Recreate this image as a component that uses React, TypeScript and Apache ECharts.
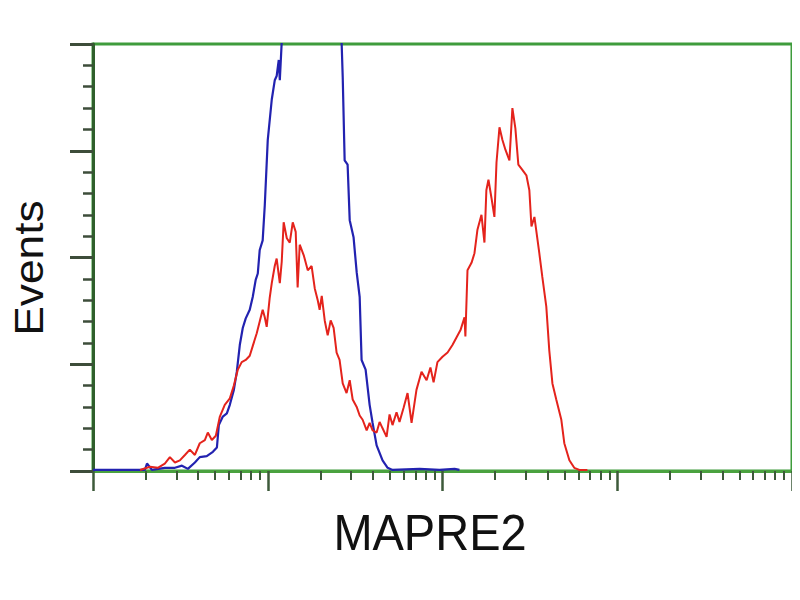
import React, { useEffect, useRef } from "react";
import * as echarts from "echarts";

// x values are log10 of fluorescence intensity (0..4 decades), y values are event counts
const blueX = [0, 0.297, 0.309, 0.337, 0.411, 0.469, 0.509, 0.543, 0.583, 0.611, 0.651, 0.686, 0.709, 0.72, 0.743, 0.766, 0.783, 0.806, 0.823, 0.84, 0.857, 0.874, 0.897, 0.914, 0.931, 0.943, 0.954, 0.971, 0.983, 1.0, 1.023, 1.04, 1.051, 1.063, 1.069, 1.08, 1.097, 1.154, 1.24, 1.326, 1.4, 1.423, 1.429, 1.44, 1.457, 1.469, 1.491, 1.509, 1.526, 1.537, 1.56, 1.583, 1.6, 1.623, 1.657, 1.686, 1.714, 1.869, 1.983, 2.069, 2.097];
const blueY = [1, 1, 7, 1, 3, 3, 5, 2, 8, 13, 14, 18, 22, 43, 51, 54, 62, 76, 93, 118, 134, 143, 151, 163, 179, 185, 207, 216, 249, 310, 348, 366, 370, 385, 366, 402, 430, 500, 540, 510, 440, 400, 369, 291, 287, 235, 219, 186, 163, 104, 95, 62, 45, 24, 10, 3, 1, 2, 1, 2, 1];

const redX = [0.269, 0.326, 0.371, 0.411, 0.44, 0.469, 0.497, 0.526, 0.554, 0.583, 0.611, 0.64, 0.657, 0.68, 0.703, 0.726, 0.754, 0.783, 0.806, 0.829, 0.851, 0.874, 0.897, 0.914, 0.937, 0.954, 0.971, 0.983, 0.994, 1.011, 1.023, 1.04, 1.051, 1.069, 1.08, 1.091, 1.109, 1.126, 1.143, 1.16, 1.171, 1.183, 1.206, 1.229, 1.251, 1.269, 1.286, 1.297, 1.309, 1.326, 1.343, 1.36, 1.377, 1.394, 1.411, 1.429, 1.451, 1.469, 1.486, 1.509, 1.526, 1.543, 1.566, 1.583, 1.6, 1.623, 1.64, 1.657, 1.68, 1.697, 1.714, 1.737, 1.754, 1.777, 1.8, 1.823, 1.851, 1.88, 1.909, 1.931, 1.949, 1.971, 2.0, 2.029, 2.057, 2.08, 2.103, 2.126, 2.131, 2.143, 2.166, 2.183, 2.2, 2.223, 2.24, 2.251, 2.263, 2.28, 2.297, 2.309, 2.326, 2.343, 2.36, 2.383, 2.4, 2.417, 2.434, 2.457, 2.48, 2.497, 2.509, 2.526, 2.554, 2.571, 2.594, 2.611, 2.629, 2.651, 2.68, 2.697, 2.726, 2.754, 2.783, 2.829];
const redY = [1, 4, 3, 7, 13, 8, 10, 15, 20, 15, 26, 29, 36, 29, 33, 51, 62, 68, 80, 95, 102, 104, 108, 117, 129, 140, 151, 144, 135, 162, 176, 192, 199, 176, 196, 233, 218, 214, 233, 224, 172, 212, 202, 188, 192, 171, 160, 151, 164, 141, 127, 141, 134, 111, 104, 82, 73, 85, 67, 60, 52, 48, 38, 45, 38, 36, 46, 40, 32, 53, 43, 55, 46, 59, 73, 45, 76, 93, 85, 97, 83, 102, 107, 111, 118, 125, 132, 144, 126, 188, 195, 204, 226, 240, 214, 263, 273, 256, 238, 289, 322, 310, 301, 291, 340, 321, 287, 282, 277, 263, 229, 238, 204, 182, 154, 113, 82, 67, 48, 26, 10, 3, 1, 1];

const xMajorTicks = [0, 1, 2, 3, 4];
const xMinorMultipliers = [2, 3, 4, 5, 6, 7, 8, 9];
const yTicks = [0, 100, 200, 300, 400];

const xAxisTitle = "MAPRE2";
const yAxisTitle = "Events";

export default function App() {
  const ref = useRef<HTMLDivElement>(null);
  useEffect(() => {
    if (!ref.current) return;
    const chart = echarts.init(ref.current, undefined, { renderer: "svg" });
    const minorVals: number[] = [];
    for (let d = 0; d < 4; d++) {
      xMinorMultipliers.forEach((m) => minorVals.push(d + Math.log10(m)));
    }
    const toPairs = (xs: number[], ys: number[]) => xs.map((x, i) => [x, ys[i]]);
    chart.setOption({
      animation: false,
      backgroundColor: "#ffffff",
      grid: {
        left: 93,
        right: 8,
        top: 44,
        bottom: 129,
        show: true,
        borderColor: "#3f9c3c",
        borderWidth: 3,
        backgroundColor: "transparent",
      },
      xAxis: [
        {
          type: "value",
          position: "bottom",
          min: xMajorTicks[0],
          max: xMajorTicks[xMajorTicks.length - 1],
          interval: 1,
          axisLine: { show: true, lineStyle: { color: "#4aa23f", width: 3 } },
          axisTick: { show: true, length: 20, lineStyle: { color: "#3d5a3a", width: 2.5 } },
          axisLabel: { show: false },
          splitLine: { show: false },
        },
        {
          type: "value",
          position: "bottom",
          min: xMajorTicks[0],
          max: xMajorTicks[xMajorTicks.length - 1],
          axisLine: { show: false },
          axisTick: { show: true, length: 9, customValues: minorVals, lineStyle: { color: "#3d5a3a", width: 2 } },
          axisLabel: { show: false },
          splitLine: { show: false },
        },
      ],
      yAxis: {
        type: "value",
        min: yTicks[0],
        max: yTicks[yTicks.length - 1],
        interval: 100,
        axisLine: { show: true, lineStyle: { color: "#2f5f2c", width: 3 } },
        axisTick: { show: true, length: 23, lineStyle: { color: "#3d4d3a", width: 3 } },
        minorTick: { show: true, splitNumber: 5, length: 10, lineStyle: { color: "#3d4d3a", width: 2.5 } },
        axisLabel: { show: false },
        splitLine: { show: false },
      },
      series: [
        {
          type: "line",
          name: "control",
          xAxisIndex: 0,
          data: toPairs(blueX, blueY),
          showSymbol: false,
          symbol: "none",
          clip: true,
          lineStyle: { color: "#2222b0", width: 2.2 },
          z: 3,
        },
        {
          type: "line",
          name: "MAPRE2",
          xAxisIndex: 0,
          data: toPairs(redX, redY),
          showSymbol: false,
          symbol: "none",
          clip: true,
          lineStyle: { color: "#e4231c", width: 2 },
          z: 4,
        },
      ],
      graphic: [
        {
          type: "text",
          x: 29,
          y: 268,
          rotation: Math.PI / 2,
          scaleX: 1.08,
          style: {
            text: yAxisTitle,
            fontFamily: "Liberation Sans, Arial, sans-serif",
            fontSize: 41,
            fill: "#111111",
            textAlign: "center",
            textVerticalAlign: "middle",
          },
        },
        {
          type: "text",
          x: 430,
          y: 532,
          scaleY: 1.08,
          style: {
            text: xAxisTitle,
            fontFamily: "Liberation Sans, Arial, sans-serif",
            fontSize: 47,
            fill: "#111111",
            textAlign: "center",
            textVerticalAlign: "middle",
          },
        },
      ],
    });
    return () => chart.dispose();
  }, []);
  return <div ref={ref} style={{ width: 800, height: 600, margin: -8 }} />;
}
